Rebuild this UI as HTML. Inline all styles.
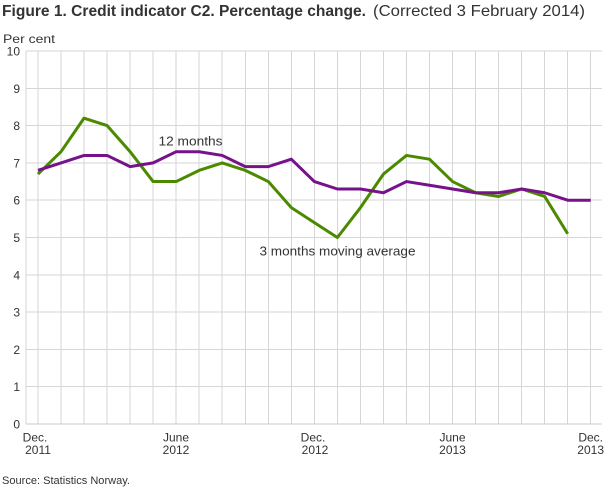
<!DOCTYPE html>
<html>
<head>
<meta charset="utf-8">
<style>
  html, body { margin: 0; padding: 0; background: #ffffff; }
  body { width: 610px; height: 488px; overflow: hidden; }
  svg { display: block; font-family: "Liberation Sans", "DejaVu Sans", sans-serif; }
</style>
</head>
<body>
<svg width="610" height="488" viewBox="0 0 610 488" xmlns="http://www.w3.org/2000/svg">
  <rect x="0" y="0" width="610" height="488" fill="#ffffff"/>

  <!-- Title -->
  <text x="2" y="16" font-size="16" font-weight="bold" fill="#333333" textLength="364" lengthAdjust="spacingAndGlyphs">Figure 1. Credit indicator C2. Percentage change.</text>
  <text x="373" y="16" font-size="16" fill="#333333" textLength="212" lengthAdjust="spacingAndGlyphs">(Corrected 3 February 2014)</text>

  <!-- Y axis title -->
  <text x="3" y="43" font-size="12" fill="#333333" textLength="52" lengthAdjust="spacingAndGlyphs">Per cent</text>

  <!-- Grid -->
  <g stroke="#d6d6d6" stroke-width="1" shape-rendering="crispEdges">
    <line x1="26" y1="51" x2="602" y2="51"/>
    <line x1="26" y1="88.3" x2="602" y2="88.3"/>
    <line x1="26" y1="125.6" x2="602" y2="125.6"/>
    <line x1="26" y1="162.9" x2="602" y2="162.9"/>
    <line x1="26" y1="200.2" x2="602" y2="200.2"/>
    <line x1="26" y1="237.5" x2="602" y2="237.5"/>
    <line x1="26" y1="274.8" x2="602" y2="274.8"/>
    <line x1="26" y1="312.1" x2="602" y2="312.1"/>
    <line x1="26" y1="349.4" x2="602" y2="349.4"/>
    <line x1="26" y1="386.7" x2="602" y2="386.7"/>

    <line x1="26" y1="51" x2="26" y2="424"/>
    <line x1="38" y1="51" x2="38" y2="424"/>
    <line x1="61.03" y1="51" x2="61.03" y2="424"/>
    <line x1="84.06" y1="51" x2="84.06" y2="424"/>
    <line x1="107.09" y1="51" x2="107.09" y2="424"/>
    <line x1="130.12" y1="51" x2="130.12" y2="424"/>
    <line x1="153.15" y1="51" x2="153.15" y2="424"/>
    <line x1="176.18" y1="51" x2="176.18" y2="424"/>
    <line x1="199.21" y1="51" x2="199.21" y2="424"/>
    <line x1="222.24" y1="51" x2="222.24" y2="424"/>
    <line x1="245.27" y1="51" x2="245.27" y2="424"/>
    <line x1="268.3" y1="51" x2="268.3" y2="424"/>
    <line x1="291.33" y1="51" x2="291.33" y2="424"/>
    <line x1="314.36" y1="51" x2="314.36" y2="424"/>
    <line x1="337.39" y1="51" x2="337.39" y2="424"/>
    <line x1="360.42" y1="51" x2="360.42" y2="424"/>
    <line x1="383.45" y1="51" x2="383.45" y2="424"/>
    <line x1="406.48" y1="51" x2="406.48" y2="424"/>
    <line x1="429.51" y1="51" x2="429.51" y2="424"/>
    <line x1="452.54" y1="51" x2="452.54" y2="424"/>
    <line x1="475.57" y1="51" x2="475.57" y2="424"/>
    <line x1="498.6" y1="51" x2="498.6" y2="424"/>
    <line x1="521.63" y1="51" x2="521.63" y2="424"/>
    <line x1="544.66" y1="51" x2="544.66" y2="424"/>
    <line x1="567.69" y1="51" x2="567.69" y2="424"/>
    <line x1="590.72" y1="51" x2="590.72" y2="424"/>
  </g>
  <line x1="26" y1="424" x2="602" y2="424" stroke="#c8c8c8" stroke-width="1" shape-rendering="crispEdges"/>

  <!-- Y labels -->
  <g font-size="12" fill="#333333" text-anchor="end">
    <text x="20" y="55.5">10</text>
    <text x="20" y="92.8">9</text>
    <text x="20" y="130.1">8</text>
    <text x="20" y="167.4">7</text>
    <text x="20" y="204.7">6</text>
    <text x="20" y="242">5</text>
    <text x="20" y="279.3">4</text>
    <text x="20" y="316.6">3</text>
    <text x="20" y="353.9">2</text>
    <text x="20" y="391.2">1</text>
    <text x="20" y="428.5">0</text>
  </g>

  <!-- X labels -->
  <g font-size="12" fill="#333333" text-anchor="middle">
    <text x="35" y="441.5">Dec.</text>
    <text x="38" y="454">2011</text>
    <text x="176" y="441.5">June</text>
    <text x="176" y="454">2012</text>
    <text x="313" y="441.5">Dec.</text>
    <text x="315" y="454">2012</text>
    <text x="452.5" y="441.5">June</text>
    <text x="452.5" y="454">2013</text>
  </g>
  <g font-size="12" fill="#333333" text-anchor="end">
    <text x="603" y="441.5">Dec.</text>
    <text x="604" y="454">2013</text>
  </g>

  <!-- Series: 3 months moving average (green) -->
  <polyline fill="none" stroke="#4b8a00" stroke-width="3" stroke-linejoin="round" stroke-linecap="butt"
    points="38,174.09 61.03,151.71 84.06,118.14 107.09,125.6 130.12,151.71 153.15,181.55 176.18,181.55 199.21,170.36 222.24,162.9 245.27,170.36 268.3,181.55 291.33,207.66 314.36,222.58 337.39,237.5 360.42,207.66 383.45,174.09 406.48,155.44 429.51,159.17 452.54,181.55 475.57,192.74 498.6,196.47 521.63,189.01 544.66,196.47 567.69,233.77"/>

  <!-- Series: 12 months (purple) -->
  <polyline fill="none" stroke="#76128a" stroke-width="3" stroke-linejoin="round" stroke-linecap="butt"
    points="38,170.36 61.03,162.9 84.06,155.44 107.09,155.44 130.12,166.63 153.15,162.9 176.18,151.71 199.21,151.71 222.24,155.44 245.27,166.63 268.3,166.63 291.33,159.17 314.36,181.55 337.39,189.01 360.42,189.01 383.45,192.74 406.48,181.55 429.51,185.28 452.54,189.01 475.57,192.74 498.6,192.74 521.63,189.01 544.66,192.74 567.69,200.2 590.72,200.2"/>

  <!-- Series labels -->
  <text x="158.5" y="145.7" font-size="13" fill="#333333" textLength="64" lengthAdjust="spacingAndGlyphs">12 months</text>
  <text x="259.5" y="255.5" font-size="13" fill="#333333" textLength="156" lengthAdjust="spacingAndGlyphs">3 months moving average</text>

  <!-- Source -->
  <text x="2" y="484" font-size="11" fill="#333333" textLength="128" lengthAdjust="spacingAndGlyphs">Source: Statistics Norway.</text>
</svg>
</body>
</html>
